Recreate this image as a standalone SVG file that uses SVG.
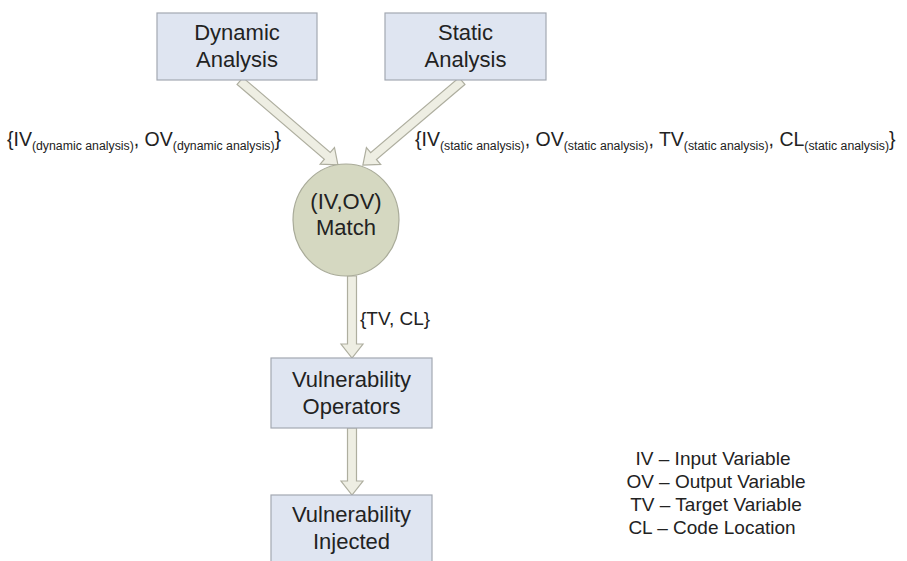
<svg xmlns="http://www.w3.org/2000/svg" width="907" height="561" viewBox="0 0 907 561">
<style>
.box{fill:#dfe5f1;stroke:#a3a8b2;stroke-width:1.2}
.circ{fill:#d5d8c1;stroke:#a9ab99;stroke-width:1.2}
.arr{fill:#eeeee3;stroke:#aeae9f;stroke-width:1.2;stroke-linejoin:miter}
.t{font-family:"Liberation Sans",Arial,sans-serif;fill:#222;}
.nt{font-size:22px;text-anchor:middle}
.lb{font-size:19.5px}
.sub{font-size:12.3px}
.lg{font-size:19px;text-anchor:middle}
</style>
<rect width="907" height="561" fill="#fff"/>
<g id="connectors">
  <path class="arr" transform="translate(240,81) rotate(40.6)" d="M0,-4.5 L115,-4.5 L115,-11 L129,0 L115,11 L115,4.5 L0,4.5 Z"/>
  <path class="arr" transform="translate(462,81) rotate(139.7)" d="M0,-4.5 L116,-4.5 L116,-11 L130,0 L116,11 L116,4.5 L0,4.5 Z"/>
  <path class="arr" transform="translate(352,276) rotate(90)" d="M0,-4.5 L68,-4.5 L68,-11 L82,0 L68,11 L68,4.5 L0,4.5 Z"/>
  <path class="arr" transform="translate(352,428) rotate(90)" d="M0,-4.5 L53,-4.5 L53,-11 L67,0 L53,11 L53,4.5 L0,4.5 Z"/>
  <text class="t lb" x="7" y="146">{IV<tspan class="sub" dy="4">(dynamic analysis)</tspan><tspan dy="-4">, OV</tspan><tspan class="sub" dy="4">(dynamic analysis)</tspan><tspan dy="-4">}</tspan></text>
  <text class="t lb" x="415" y="146">{IV<tspan class="sub" dy="4">(static analysis)</tspan><tspan dy="-4">, OV</tspan><tspan class="sub" dy="4">(static analysis)</tspan><tspan dy="-4">, TV</tspan><tspan class="sub" dy="4">(static analysis)</tspan><tspan dy="-4">, CL</tspan><tspan class="sub" dy="4">(static analysis)</tspan><tspan dy="-4">}</tspan></text>
  <text class="t" x="360" y="325" font-size="19">{TV, CL}</text>
</g>
<g id="dynamic">
  <rect class="box" x="157" y="13" width="160" height="67"/>
  <text class="t nt" x="237" y="40">Dynamic</text>
  <text class="t nt" x="237" y="67">Analysis</text>
</g>
<g id="static">
  <rect class="box" x="385" y="13" width="161" height="67"/>
  <text class="t nt" x="465.5" y="40">Static</text>
  <text class="t nt" x="465.5" y="67">Analysis</text>
</g>
<g id="match">
  <ellipse class="circ" cx="346" cy="220" rx="53" ry="56"/>
  <text class="t nt" x="346" y="209">(IV,OV)</text>
  <text class="t nt" x="346" y="235">Match</text>
</g>
<g id="operators">
  <rect class="box" x="271" y="358" width="161" height="70"/>
  <text class="t nt" x="351.5" y="387">Vulnerability</text>
  <text class="t nt" x="351.5" y="414">Operators</text>
</g>
<g id="injected">
  <rect class="box" x="271" y="495" width="161" height="75"/>
  <text class="t nt" x="351.5" y="522">Vulnerability</text>
  <text class="t nt" x="351.5" y="549">Injected</text>
</g>
<g id="legend">
  <text class="t lg" x="713" y="465">IV – Input Variable</text>
  <text class="t lg" x="716" y="488">OV – Output Variable</text>
  <text class="t lg" x="716" y="511">TV – Target Variable</text>
  <text class="t lg" x="712" y="534">CL – Code Location</text>
</g>
</svg>
